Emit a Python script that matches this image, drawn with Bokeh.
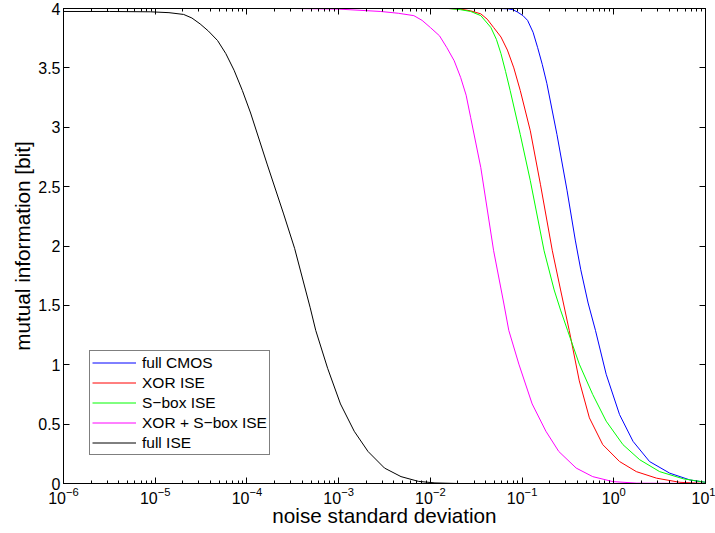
import numpy as np
from bokeh.plotting import figure
from bokeh.models import (LinearAxis, Legend, LegendItem, Range1d,
                          FixedTicker, LogTickFormatter, CustomJSTickFormatter)
from bokeh.embed import file_html
from bokeh.resources import INLINE

# ---- data (log10 of noise std, mutual information in bit) ----
cmos_exp = [-6, -1.25, -1.15, -1.10, -1.05, -0.99, -0.94, -0.88, -0.83, -0.78, -0.73, -0.62, -0.51,
            -0.42, -0.36, -0.28, -0.20, -0.083, 0.063, 0.21, 0.39, 0.61, 0.83, 1.0]
cmos_mi = [4.0, 4.0, 3.997, 3.99, 3.97, 3.94, 3.90, 3.80, 3.67, 3.53, 3.37, 2.94, 2.47,
           2.05, 1.80, 1.52, 1.29, 0.92, 0.58, 0.355, 0.185, 0.087, 0.03, 0.01]

xor_exp = [-6, -1.8, -1.67, -1.56, -1.45, -1.38, -1.31, -1.23, -1.16, -1.09, -1.02, -0.91, -0.80,
           -0.67, -0.58, -0.486, -0.376, -0.266, -0.12, 0.063, 0.246, 0.466, 0.72, 1.0]
xor_mi = [4.0, 4.0, 3.995, 3.98, 3.955, 3.91, 3.84, 3.76, 3.65, 3.50, 3.31, 2.97, 2.52,
          1.96, 1.63, 1.29, 0.864, 0.553, 0.327, 0.185, 0.10, 0.045, 0.01, 0.0]

sbox_exp = [-6, -1.8, -1.67, -1.56, -1.45, -1.34, -1.28, -1.23, -1.18, -1.13, -1.02, -0.91,
            -0.76, -0.65, -0.58, -0.504, -0.376, -0.23, -0.083, 0.10, 0.283, 0.50, 0.76, 1.0]
sbox_mi = [4.0, 4.0, 3.99, 3.975, 3.94, 3.84, 3.74, 3.62, 3.47, 3.31, 2.94, 2.55,
           1.96, 1.63, 1.46, 1.29, 1.005, 0.75, 0.525, 0.327, 0.20, 0.10, 0.039, 0.01]

xorsbox_exp = [-6, -3.5, -3.0, -2.54, -2.35, -2.18, -2.09, -2.0, -1.90, -1.82, -1.74, -1.67,
               -1.61, -1.56, -1.45, -1.31, -1.20, -1.145, -1.035, -0.89, -0.74, -0.60, -0.41,
               -0.23, -0.01, 0.25, 1.0]
xorsbox_mi = [4.0, 4.0, 3.995, 3.975, 3.96, 3.94, 3.90, 3.84, 3.77, 3.67, 3.56, 3.42,
              3.27, 3.08, 2.66, 1.96, 1.52, 1.29, 1.005, 0.67, 0.44, 0.27, 0.13,
              0.058, 0.016, 0.003, 0.0]

fullise_exp = [-6, -5.5, -5.05, -4.85, -4.69, -4.60, -4.51, -4.42, -4.32, -4.23, -4.14, -4.05,
               -3.96, -3.78, -3.60, -3.48, -3.31, -3.25, -3.12, -2.98, -2.83, -2.68, -2.50,
               -2.32, -2.13, -1.95, -1.7, 1.0]
fullise_mi = [3.975, 3.975, 3.972, 3.965, 3.95, 3.92, 3.87, 3.81, 3.73, 3.62, 3.48, 3.31,
              3.12, 2.69, 2.27, 1.98, 1.48, 1.29, 0.97, 0.67, 0.44, 0.27, 0.13,
              0.058, 0.018, 0.005, 0.0, 0.0]

series_names = ["full CMOS", "XOR ISE", "S\u2212box ISE", "XOR + S\u2212box ISE", "full ISE"]
series_colors = ["#0000ff", "#ff0000", "#00ff00", "#ff00ff", "#000000"]
series_exp = [cmos_exp, xor_exp, sbox_exp, xorsbox_exp, fullise_exp]
series_mi = [cmos_mi, xor_mi, sbox_mi, xorsbox_mi, fullise_mi]

x_decades = [-6, -5, -4, -3, -2, -1, 0, 1]
y_ticks = [0, 0.5, 1, 1.5, 2, 2.5, 3, 3.5, 4]

FONT = "Liberation Sans"

p = figure(width=715, height=533, x_axis_type="log",
           x_range=Range1d(1e-6, 10), y_range=Range1d(0, 4),
           output_backend="svg", toolbar_location=None,
           min_border_left=63, min_border_right=10, min_border_top=8, min_border_bottom=50)
p.grid.visible = False
p.outline_line_color = "black"
p.background_fill_color = "white"
p.border_fill_color = "white"

major_x = [10.0 ** e for e in x_decades]
minor_x = [k * 10.0 ** e for e in x_decades[:-1] for k in range(2, 10)]
xticker = FixedTicker(ticks=major_x, minor_ticks=minor_x)
yticker = FixedTicker(ticks=y_ticks)

def style(ax, labels=True):
    ax.major_tick_in = 6
    ax.major_tick_out = 0
    ax.minor_tick_in = 3
    ax.minor_tick_out = 0
    ax.axis_line_color = "black"
    ax.major_tick_line_color = "black"
    ax.minor_tick_line_color = "black"
    ax.major_label_text_font = FONT
    ax.major_label_text_color = "black"
    ax.axis_label_text_font = FONT
    ax.axis_label_text_font_style = "normal"
    ax.axis_label_text_color = "black"
    if labels:
        ax.major_label_text_font_size = "16px"
        ax.axis_label_text_font_size = "20.7px"
    else:
        ax.formatter = CustomJSTickFormatter(code="return '';")
        ax.major_label_text_font_size = "1px"
        ax.major_label_standoff = 0

xa = p.xaxis[0]
xa.ticker = xticker
xa.formatter = LogTickFormatter()
style(xa)
xa.major_label_standoff = 3
xa.axis_label = "noise standard deviation"
xa.axis_label_standoff = -3

ya = p.yaxis[0]
ya.ticker = yticker
style(ya)
ya.minor_tick_line_color = None
ya.major_label_standoff = 3
ya.axis_label = "mutual information [bit]"
ya.axis_label_standoff = 1

top = LinearAxis(ticker=xticker)
style(top, labels=False)
p.add_layout(top, "above")
right = LinearAxis(ticker=yticker)
style(right, labels=False)
right.minor_tick_line_color = None
p.add_layout(right, "right")

items = []
for name, col, ex, mi in zip(series_names, series_colors, series_exp, series_mi):
    xs = [10.0 ** e for e in ex]
    r = p.line(xs, mi, line_color=col, line_width=1)
    items.append(LegendItem(label=name, renderers=[r]))

legend = Legend(items=items, location=(26, 28))
legend.label_text_font = FONT
legend.label_text_font_size = "15.5px"
legend.label_text_color = "black"
legend.glyph_width = 44
legend.glyph_height = 19
legend.label_height = 19
legend.label_standoff = 6
legend.spacing = 1
legend.padding = 2
legend.margin = 0
legend.border_line_color = "black"
legend.border_line_width = 1
legend.background_fill_alpha = 1
p.add_layout(legend)

open("out.html", "w").write(file_html(p, INLINE))
